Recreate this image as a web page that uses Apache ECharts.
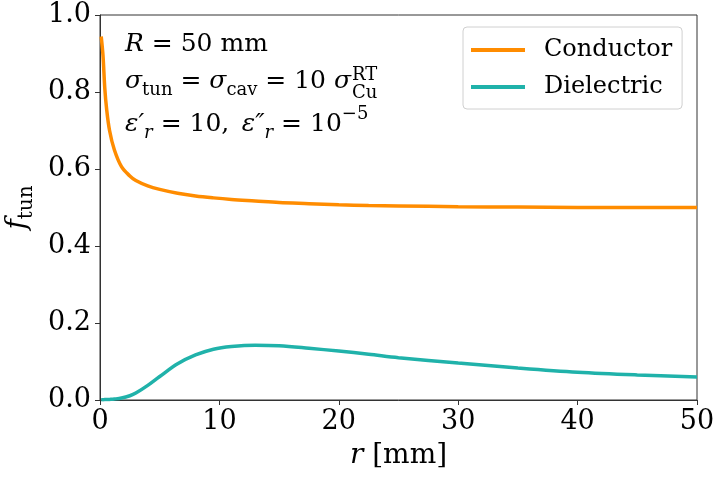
<!DOCTYPE html>
<html>
<head>
<meta charset="utf-8">
<script src="https://cdn.jsdelivr.net/npm/echarts@6/dist/echarts.min.js"></script>
<style>html,body{margin:0;padding:0;background:#fff}#c{width:718px;height:478px}</style>
</head>
<body>
<div id="c"></div>
<script>
const rValues = [0.1, 0.25, 0.4, 0.55, 0.8, 1.2, 1.8, 2.5, 3, 4, 5, 6.5, 8, 9.5, 11, 13, 15, 17.5, 20, 22.5, 25, 30, 35, 40, 45, 50];
const conductor = [0.944, 0.895, 0.81, 0.757, 0.70, 0.65, 0.606, 0.582, 0.570, 0.556, 0.547, 0.537, 0.530, 0.525, 0.521, 0.517, 0.513, 0.510, 0.507, 0.505, 0.504, 0.502, 0.501, 0.500, 0.500, 0.500];
const dielectric = [0.0005, 0.0007, 0.001, 0.001, 0.0015, 0.0025, 0.005, 0.011, 0.018, 0.038, 0.061, 0.094, 0.117, 0.132, 0.139, 0.1425, 0.141, 0.1345, 0.127, 0.119, 0.110, 0.096, 0.083, 0.072, 0.065, 0.060];
const seriesNames = ['Conductor', 'Dielectric'];
const xTicks = [0, 10, 20, 30, 40, 50];
const yTicks = [0.0, 0.2, 0.4, 0.6, 0.8, 1.0];

const FONT = 'DejaVu Serif';
const chart = echarts.init(document.getElementById('c'), null, {renderer: 'canvas'});
const pair = (arr) => rValues.map((r, i) => [r, arr[i]]);

const mctx = document.createElement('canvas').getContext('2d');
function tw(font, s) { mctx.font = font; return mctx.measureText(s).width; }

const rich = {
  i: {fontFamily: FONT, fontStyle: 'italic', fontSize: 25, color: '#000'},
  n: {fontFamily: FONT, fontSize: 25, color: '#000'},
  sub: {fontFamily: FONT, fontSize: 18, color: '#000', padding: [18, 0, 0, 0]},
  isub: {fontFamily: FONT, fontStyle: 'italic', fontSize: 18, color: '#000', padding: [18, 0, 0, 0]},
  sup: {fontFamily: FONT, fontSize: 18, color: '#000', padding: [0, 0, 21, 0]},
  ai: {fontFamily: FONT, fontStyle: 'italic', fontSize: 28, color: '#000'},
  an: {fontFamily: FONT, fontSize: 28, color: '#000'},
  asub: {fontFamily: FONT, fontSize: 20, color: '#000', padding: [18, 0, 0, 0]}
};

const I25 = 'italic 25px "DejaVu Serif"', N25 = '25px "DejaVu Serif"', N18 = '18px "DejaVu Serif"';
const line2W = tw(I25, 'σ') + tw(N18, 'tun') + tw(N25, ' = ') + tw(I25, 'σ') + tw(N18, 'cav') + tw(N25, ' = 10 ') + tw(I25, 'σ');
const L = 125;

chart.setOption({
  animation: false,
  backgroundColor: '#fff',
  grid: {left: 100, right: 21, top: 15, bottom: 78, containLabel: false, outerBoundsMode: 'none',
         show: true, borderColor: '#333', borderWidth: 1},
  legend: {
    orient: 'vertical', left: 463, top: 27,
    padding: [11, 10, 10, 8],
    itemWidth: 54, itemHeight: 4, itemGap: 13,
    borderColor: '#d0d0d0', borderWidth: 1, borderRadius: 4,
    icon: 'rect',
    textStyle: {fontFamily: FONT, fontSize: 24, color: '#000', padding: [0, 0, 0, 14]},
    data: seriesNames
  },
  xAxis: {
    type: 'value', min: xTicks[0], max: xTicks[xTicks.length - 1], interval: 10,
    name: '{ai|r}{an| [mm]}', nameLocation: 'middle', nameGap: 42,
    nameTextStyle: {rich: rich},
    axisLine: {show: true, lineStyle: {color: '#333', width: 1}},
    axisTick: {show: true, length: 5, lineStyle: {color: '#333'}},
    axisLabel: {fontFamily: FONT, fontSize: 27, color: '#000', margin: 8},
    splitLine: {show: false}
  },
  yAxis: {
    type: 'value', min: yTicks[0], max: yTicks[yTicks.length - 1], interval: 0.2,
    name: '{ai|f}{asub|tun}', nameLocation: 'middle', nameGap: 60, nameRotate: 90,
    nameTextStyle: {rich: rich},
    axisLine: {show: true, lineStyle: {color: '#333', width: 1}},
    axisTick: {show: true, length: 5, lineStyle: {color: '#333'}},
    axisLabel: {fontFamily: FONT, fontSize: 27, color: '#000', margin: 9, formatter: v => v.toFixed(1)},
    splitLine: {show: false}
  },
  series: [
    {name: seriesNames[0], type: 'line', data: pair(conductor), showSymbol: false, smooth: 0.35,
     lineStyle: {color: '#ff8c00', width: 3.5}, itemStyle: {color: '#ff8c00'}},
    {name: seriesNames[1], type: 'line', data: pair(dielectric), showSymbol: false, smooth: 0.35,
     lineStyle: {color: '#20b2aa', width: 3.5}, itemStyle: {color: '#20b2aa'}}
  ],
  graphic: [
    {type: 'text', left: L, top: 32, style: {text: '{i|R}{n| = 50 mm}', rich: rich}},
    {type: 'text', left: L, top: 69, style: {text: '{i|σ}{sub|tun}{n| = }{i|σ}{sub|cav}{n| = 10 }{i|σ}', rich: rich}},
    {type: 'text', left: L + line2W + 1, top: 66, style: {text: 'RT', font: N18, fill: '#000'}},
    {type: 'text', left: L + line2W + 1, top: 84, style: {text: 'Cu', font: N18, fill: '#000'}},
    {type: 'text', left: L, top: 105, style: {text: '{i|ε′}{isub|r}{n| = 10,\u2002}{i|ε″}{isub|r}{n| = 10}{sup|−5}', rich: rich}}
  ]
});
</script>
</body>
</html>
